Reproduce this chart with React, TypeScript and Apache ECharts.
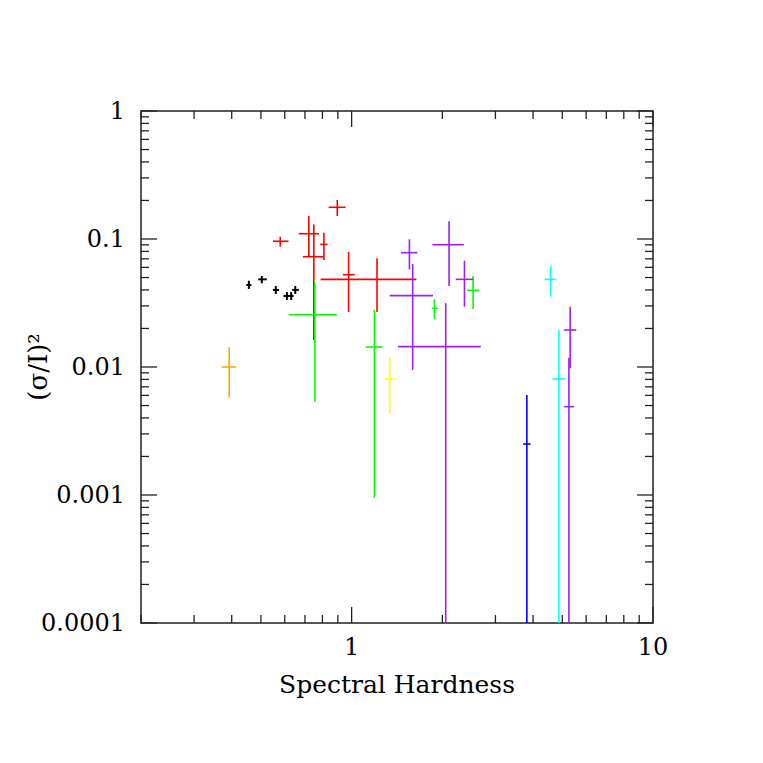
import React, { useEffect, useRef } from "react";
import * as echarts from "echarts";

const X_MIN = 0.2;
const X_MAX = 10;
const Y_MIN = 0.0001;
const Y_MAX = 1;

const xTickValues = [1, 10];
const xTickLabels = ["1", "10"];
const yTickValues = [0.0001, 0.001, 0.01, 0.1, 1];
const yTickLabels = ["0.0001", "0.001", "0.01", "0.1", "1"];

const xMinorTicks = [0.2, 0.3, 0.4, 0.5, 0.6, 0.7, 0.8, 0.9, 2, 3, 4, 5, 6, 7, 8, 9];
const yMinorTicks = [
  0.0002, 0.0003, 0.0004, 0.0005, 0.0006, 0.0007, 0.0008, 0.0009,
  0.002, 0.003, 0.004, 0.005, 0.006, 0.007, 0.008, 0.009,
  0.02, 0.03, 0.04, 0.05, 0.06, 0.07, 0.08, 0.09,
  0.2, 0.3, 0.4, 0.5, 0.6, 0.7, 0.8, 0.9,
];

// [x, y, xLow, xHigh, yLow, yHigh]; yLow = 0 means the bar runs below the axis
const blackPoints = [
  [0.456, 0.0437, 0.447, 0.465, 0.0407, 0.0472],
  [0.5035, 0.0484, 0.49, 0.523, 0.0451, 0.0514],
  [0.56, 0.04, 0.548, 0.574, 0.0372, 0.0429],
  [0.61, 0.0359, 0.594, 0.622, 0.0334, 0.0385],
  [0.63, 0.0359, 0.616, 0.642, 0.0334, 0.0385],
  [0.65, 0.04, 0.635, 0.668, 0.0372, 0.0429],
];
const orangePoints = [[0.3925, 0.01, 0.37, 0.414, 0.00576, 0.01426]];
const redPoints = [
  [0.5796, 0.096, 0.548, 0.6175, 0.0871, 0.1043],
  [0.896, 0.1769, 0.839, 0.955, 0.1512, 0.2017],
  [0.721, 0.11, 0.668, 0.779, 0.0727, 0.1512],
  [0.749, 0.0727, 0.689, 0.809, 0.01625, 0.13],
  [0.809, 0.0909, 0.787, 0.832, 0.0685, 0.112],
  [0.977, 0.0526, 0.936, 1.023, 0.0269, 0.0791],
  [1.214, 0.0484, 0.789, 1.64, 0.0269, 0.0707],
];
const greenPoints = [
  [0.755, 0.0256, 0.619, 0.894, 0.00536, 0.0459],
  [1.19, 0.01433, 1.113, 1.265, 0.000953, 0.0279],
  [1.883, 0.02875, 1.849, 1.931, 0.0238, 0.0338],
  [2.529, 0.0397, 2.415, 2.647, 0.0284, 0.0514],
];
const yellowPoints = [[1.337, 0.0081, 1.29, 1.379, 0.0043, 0.0119]];
const purplePoints = [
  [1.555, 0.0782, 1.458, 1.653, 0.058, 0.0995],
  [2.105, 0.0902, 1.854, 2.356, 0.0429, 0.1375],
  [2.368, 0.0484, 2.216, 2.529, 0.0296, 0.0677],
  [1.594, 0.0361, 1.337, 1.862, 0.00947, 0.0638],
  [2.052, 0.01442, 1.425, 2.683, 0, 0.0315],
  [5.311, 0.01946, 5.062, 5.563, 0.00977, 0.0296],
  [5.26, 0.0049, 5.075, 5.465, 0, 0.01182],
];
const cyanPoints = [
  [4.571, 0.0484, 4.366, 4.762, 0.0354, 0.0615],
  [4.872, 0.00806, 4.643, 5.113, 0, 0.01946],
];
const bluePoints = [[3.814, 0.0025, 3.709, 3.924, 0, 0.00604]];

const groups: [string, number[][], number][] = [
  ["#000000", blackPoints, 2],
  ["#ffa500", orangePoints, 1.6],
  ["#ff0000", redPoints, 1.6],
  ["#00ff00", greenPoints, 1.6],
  ["#ffff00", yellowPoints, 1.6],
  ["#a020f0", purplePoints, 1.6],
  ["#00ffff", cyanPoints, 1.6],
  ["#0000ff", bluePoints, 1.6],
];

const FONT = "DejaVu Serif";
const FRAME = "#222222";
const MAJOR_LEN = 16;
const MINOR_LEN = 8;

function labelFor(values: number[], labels: string[], v: number) {
  const i = values.findIndex((t) => Math.abs(Math.log10(v) - Math.log10(t)) < 1e-6);
  return i >= 0 ? labels[i] : "";
}

function makeErrorBar(width: number) {
  return function errorBar(params: any, api: any) {
    const cs = params.coordSys;
    const x = api.value(0);
    const y = api.value(1);
    const xl = api.value(2);
    const xh = api.value(3);
    const yl = api.value(4);
    const yh = api.value(5);
    const c = api.coord([x, y]);
    const l = api.coord([xl, y]);
    const h = api.coord([xh, y]);
    const t = api.coord([x, yh]);
    const bottom = cs.y + cs.height;
    const b = yl > 0 ? Math.min(api.coord([x, yl])[1], bottom) : bottom;
    const style = { stroke: api.visual("color"), lineWidth: width };
    return {
      type: "group",
      children: [
        { type: "line", shape: { x1: l[0], y1: c[1], x2: h[0], y2: c[1] }, style },
        { type: "line", shape: { x1: c[0], y1: t[1], x2: c[0], y2: b }, style },
      ],
    };
  };
}

function xTick(params: any, api: any) {
  const cs = params.coordSys;
  const cx = api.coord([api.value(0), api.value(1)])[0];
  const len = api.value(2) ? MAJOR_LEN : MINOR_LEN;
  const style = { stroke: FRAME, lineWidth: 1.3 };
  return {
    type: "group",
    children: [
      { type: "line", shape: { x1: cx, y1: cs.y + cs.height, x2: cx, y2: cs.y + cs.height - len }, style },
      { type: "line", shape: { x1: cx, y1: cs.y, x2: cx, y2: cs.y + len }, style },
    ],
  };
}

function yTick(params: any, api: any) {
  const cs = params.coordSys;
  const cy = api.coord([api.value(0), api.value(1)])[1];
  const len = api.value(2) ? MAJOR_LEN : MINOR_LEN;
  const style = { stroke: FRAME, lineWidth: 1.3 };
  return {
    type: "group",
    children: [
      { type: "line", shape: { x1: cs.x, y1: cy, x2: cs.x + len, y2: cy }, style },
      { type: "line", shape: { x1: cs.x + cs.width, y1: cy, x2: cs.x + cs.width - len, y2: cy }, style },
    ],
  };
}

export default function App() {
  const ref = useRef<HTMLDivElement>(null);
  useEffect(() => {
    document.body.style.margin = "0";
    if (!ref.current) return;
    const chart = echarts.init(ref.current, null, { renderer: "svg" });
    const xTickData = [
      ...xTickValues.map((v) => [v, Y_MAX, 1]),
      ...xMinorTicks.map((v) => [v, Y_MAX, 0]),
    ];
    const yTickData = [
      ...yTickValues.map((v) => [1, v, 1]),
      ...yMinorTicks.map((v) => [1, v, 0]),
    ];
    const option: any = {
      animation: false,
      backgroundColor: "#ffffff",
      textStyle: { fontFamily: FONT },
      grid: {
        left: 141,
        top: 111,
        width: 512,
        height: 512,
        show: true,
        borderColor: FRAME,
        borderWidth: 1.5,
        backgroundColor: "transparent",
        containLabel: false,
        outerBoundsMode: "none",
      },
      xAxis: {
        type: "log",
        logBase: 10,
        min: X_MIN,
        max: X_MAX,
        axisLine: { show: false },
        axisTick: { show: false },
        splitLine: { show: false },
        axisLabel: {
          margin: 12,
          color: "#000",
          fontFamily: FONT,
          fontSize: 24,
          formatter: (v: number) => labelFor(xTickValues, xTickLabels, v),
        },
        name: "Spectral Hardness",
        nameLocation: "middle",
        nameGap: 49,
        nameMoveOverlap: false,
        nameTextStyle: { color: "#000", fontFamily: FONT, fontSize: 25 },
      },
      yAxis: {
        type: "log",
        logBase: 10,
        min: Y_MIN,
        max: Y_MAX,
        axisLine: { show: false },
        axisTick: { show: false },
        splitLine: { show: false },
        axisLabel: {
          margin: 16,
          color: "#000",
          fontFamily: FONT,
          fontSize: 24,
          formatter: (v: number) => labelFor(yTickValues, yTickLabels, v),
        },
        name: "(σ/I)²",
        nameLocation: "middle",
        nameGap: 90,
        nameMoveOverlap: false,
        nameTextStyle: { color: "#000", fontFamily: FONT, fontSize: 26 },
      },
      series: [
        {
          type: "custom",
          silent: true,
          renderItem: xTick,
          encode: { x: 0, y: 1 },
          data: xTickData,
        },
        {
          type: "custom",
          silent: true,
          renderItem: yTick,
          encode: { x: 0, y: 1 },
          data: yTickData,
        },
        ...groups.map(([color, pts, w]) => ({
          type: "custom",
          silent: true,
          renderItem: makeErrorBar(w),
          itemStyle: { color },
          encode: { x: 0, y: 1 },
          data: pts,
        })),
      ],
    };
    chart.setOption(option);
    return () => chart.dispose();
  }, []);
  return <div ref={ref} style={{ width: 763, height: 763 }} />;
}
